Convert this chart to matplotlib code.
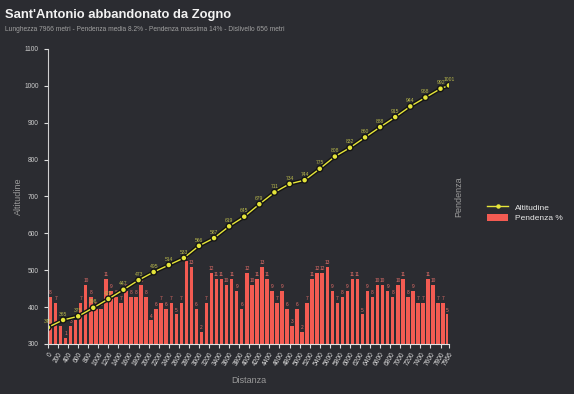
import numpy as np
import matplotlib.pyplot as plt
import matplotlib.patheffects as pe
from matplotlib.lines import Line2D
from matplotlib.patches import Patch

# DATA
# altitude every 300 m (last point at the end of the climb)
dist_alt = [0, 300, 600, 900, 1200, 1500, 1800, 2100, 2400, 2700, 3000, 3300, 3600,
            3900, 4200, 4500, 4800, 5100, 5400, 5700, 6000, 6300, 6600, 6900, 7200,
            7500, 7800, 7966]
altitudine = [345, 365, 375, 398, 422, 447, 473, 495, 514, 533, 566, 587, 619,
              645, 679, 711, 734, 744, 775, 808, 832, 860, 888, 915, 944,
              968, 992, 1001]

# slope (%) for every 100 m segment
pendenza = [8, 7, 3, 1, 3, 4, 7, 10, 8, 6,
            6, 11, 9, 8, 7, 9, 8, 8, 10, 8,
            4, 6, 7, 6, 7, 5, 7, 14, 13, 6,
            2, 7, 12, 11, 11, 10, 11, 9, 6, 12,
            10, 11, 13, 11, 9, 7, 9, 6, 3, 6,
            2, 7, 11, 12, 12, 13, 9, 7, 8, 9,
            11, 11, 5, 9, 8, 10, 10, 9, 8, 10,
            11, 8, 9, 7, 7, 11, 10, 7, 7, 5]
seg_start = list(range(0, 8000, 100))
lunghezza = 7966

xtick_vals = list(range(0, 7801, 200)) + [7966]

#################################################################
bg = '#2b2c31'
fig = plt.figure(figsize=(5.74, 3.94), dpi=100, facecolor=bg)
plt.rcParams['font.family'] = ['Liberation Sans', 'DejaVu Sans']

ax = fig.add_axes([0.0836, 0.127, 0.6984, 0.749])
ax2 = ax.twinx()
ax.set_zorder(ax2.get_zorder() + 1)
ax.patch.set_visible(False)
ax2.set_facecolor(bg)

# bars (pendenza) on the twin axis
seg_end = [min(s + 100, lunghezza) for s in seg_start]
centers = [(a + b) / 2 for a, b in zip(seg_start, seg_end)]
widths = [(b - a) * 0.7 for a, b in zip(seg_start, seg_end)]
ax2.bar(centers, pendenza, width=widths, color='#f35b52', edgecolor='none')
for c, p in zip(centers, pendenza):
    ax2.text(c, p + 0.3, str(int(round(p))), ha='center', va='bottom',
             fontsize=3.4, color='#e8706a')
ax2.set_ylim(0, 50)
ax2.set_yticks([])
ax2.set_ylabel('Pendenza', color='#9a9a9a', fontsize=6.5)

# altitude line
ax.plot(dist_alt, altitudine, color='#e6e63a', lw=1.0, marker='o', ms=2.2,
        path_effects=[pe.Stroke(linewidth=3.0, foreground='#151515'), pe.Normal()])
for d, a in zip(dist_alt, altitudine):
    ax.text(d, a + 9, str(a), ha='center', va='bottom', fontsize=3.6, color='#b8b84a')

ax.set_xlim(0, lunghezza)
ax.set_ylim(300, 1100)
ax.set_yticks(range(300, 1101, 100))
ax.set_xticks(xtick_vals)
ax.set_xticklabels([str(v) for v in xtick_vals], rotation=60, ha='right',
                   rotation_mode='anchor')
ax.tick_params(axis='both', colors='#dddddd', labelsize=4.8, length=3, width=0.8)
ax.tick_params(axis='x', labelcolor='#dddddd', pad=2)
ax.tick_params(axis='y', labelcolor='#cccccc')
ax.set_xlabel('Distanza', color='#9a9a9a', fontsize=6.5, labelpad=6)
ax.set_ylabel('Altitudine', color='#9a9a9a', fontsize=6.5, labelpad=1)

for a in (ax, ax2):
    for s in ('top', 'right'):
        a.spines[s].set_visible(False)
    a.spines['left'].set_color('#cfcfcf')
    a.spines['bottom'].set_color('#e0e0e0')
ax2.spines['left'].set_visible(False)
ax2.spines['bottom'].set_visible(False)

# legend
handles = [Line2D([0], [0], color='#e6e63a', lw=1.0, marker='o', ms=2.2),
           Patch(facecolor='#f35b52')]
fig.legend(handles, ['Altitudine', 'Pendenza %'], loc='center left',
           bbox_to_anchor=(0.835, 0.46), frameon=False, fontsize=6,
           labelcolor='#e8e8e8', handlelength=2.6, handleheight=0.9,
           labelspacing=0.3)

# titles
fig.text(0.009, 0.978, "Sant'Antonio abbandonato da Zogno", fontsize=9.4,
         fontweight='bold', color='#f2f2f2', va='top')
fig.text(0.009, 0.935, "Lunghezza 7966 metri - Pendenza media 8.2% - Pendenza massima 14% - Dislivello 656 metri",
         fontsize=4.8, color='#a0a0a0', va='top')

fig.savefig('out.png', dpi=100, facecolor=bg)
